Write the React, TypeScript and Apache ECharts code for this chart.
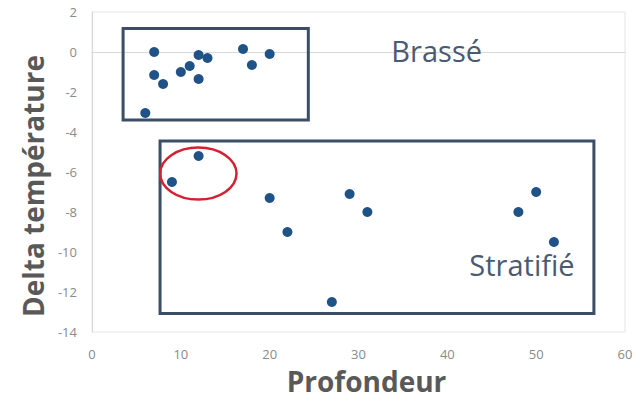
import React, { useEffect, useRef } from "react";
import * as echarts from "echarts";

// Scatter values [Profondeur, Delta température]
const brassePoints: number[][] = [
  [6, -3.05], [7, 0], [7, -1.15], [8, -1.6], [10, -1], [11, -0.7],
  [12, -0.15], [13, -0.3], [12, -1.35], [17, 0.15], [18, -0.65], [20, -0.1],
];
const stratifiePoints: number[][] = [
  [12, -5.2], [9, -6.5], [20, -7.3], [22, -9], [29, -7.1], [31, -8],
  [27, -12.5], [50, -7], [48, -8], [52, -9.5],
];

// Annotation boxes: [xMin, yMax, xMax, yMin]
const boxes: number[][] = [
  [3.5, 1.18, 24.35, -3.4],
  [7.66, -4.45, 56.5, -13.07],
];
const boxLabels: string[] = ["Brassé", "Stratifié"];
const labelPositions: number[][] = [
  [38.8, 0.1],
  [48.4, -10.6],
];
// Highlight ellipse: [cx, cy, rx, ry]
const highlight: number[][] = [[11.97, -6.08, 4.3, 1.3]];

const xTicks = { min: 0, max: 60, interval: 10 };
const yTicks = { min: -14, max: 2, interval: 2 };

export default function App() {
  const ref = useRef<HTMLDivElement>(null);
  useEffect(() => {
    if (!ref.current) return;
    const chart = echarts.init(ref.current, undefined, { renderer: "svg" });
    const tickStyle = { color: "#8a8a8a", fontSize: 13, fontFamily: "Open Sans" };
    const titleStyle = { fontSize: 28, fontWeight: "bold", color: "#595959", fontFamily: "Open Sans" };
    chart.setOption({
      animation: false,
      backgroundColor: "#ffffff",
      grid: {
        left: 92, right: 11, top: 12, bottom: 68,
        show: true, borderColor: "#e6e6e6", borderWidth: 1,
      },
      xAxis: {
        type: "value",
        min: xTicks.min, max: xTicks.max, interval: xTicks.interval,
        name: "Profondeur",
        nameLocation: "middle",
        nameGap: 35,
        nameTextStyle: { ...titleStyle, padding: [0, 0, 0, 16] },
        axisLine: { show: true, lineStyle: { color: "#d9d9d9" } },
        axisTick: { show: false },
        splitLine: { show: false },
        axisLabel: { ...tickStyle, margin: 15 },
      },
      yAxis: {
        type: "value",
        min: yTicks.min, max: yTicks.max, interval: yTicks.interval,
        name: "Delta température",
        nameLocation: "middle",
        nameGap: 40,
        nameTextStyle: { ...titleStyle, padding: [0, 28, 0, 0] },
        axisLine: { show: true, lineStyle: { color: "#d9d9d9" } },
        axisTick: { show: false },
        splitLine: { show: false },
        axisLabel: { ...tickStyle, margin: 15 },
      },
      series: [
        {
          type: "custom",
          silent: true,
          z: 1,
          data: boxes,
          renderItem: (params: any, api: any) => {
            const p0 = api.coord([api.value(0), api.value(1)]);
            const p1 = api.coord([api.value(2), api.value(3)]);
            return {
              type: "rect",
              shape: { x: p0[0], y: p0[1], width: p1[0] - p0[0], height: p1[1] - p0[1] },
              style: { fill: "none", stroke: "#3b4e66", lineWidth: 3 },
            };
          },
        },
        {
          type: "custom",
          silent: true,
          z: 3,
          data: highlight,
          renderItem: (params: any, api: any) => {
            const c = api.coord([api.value(0), api.value(1)]);
            const e = api.coord([api.value(0) + api.value(2), api.value(1) - api.value(3)]);
            return {
              type: "ellipse",
              shape: { cx: c[0], cy: c[1], rx: e[0] - c[0], ry: e[1] - c[1] },
              style: { fill: "none", stroke: "#d42030", lineWidth: 2.5 },
            };
          },
        },
        {
          type: "custom",
          silent: true,
          z: 2,
          data: labelPositions.map((p, i) => [p[0], p[1], i]),
          renderItem: (params: any, api: any) => {
            const c = api.coord([api.value(0), api.value(1)]);
            return {
              type: "text",
              x: c[0], y: c[1],
              style: {
                text: boxLabels[api.value(2)],
                align: "center", verticalAlign: "middle",
                fontSize: 29, fontFamily: "Open Sans", fill: "#4a5a72",
              },
            };
          },
        },
        {
          type: "scatter",
          z: 4,
          data: [...brassePoints, ...stratifiePoints],
          symbolSize: 10,
          itemStyle: { color: "#1f5286", opacity: 1 },
        },
      ],
    });
    return () => chart.dispose();
  }, []);
  return <div ref={ref} style={{ width: 636, height: 400, position: "absolute", left: 0, top: 0 }} />;
}
